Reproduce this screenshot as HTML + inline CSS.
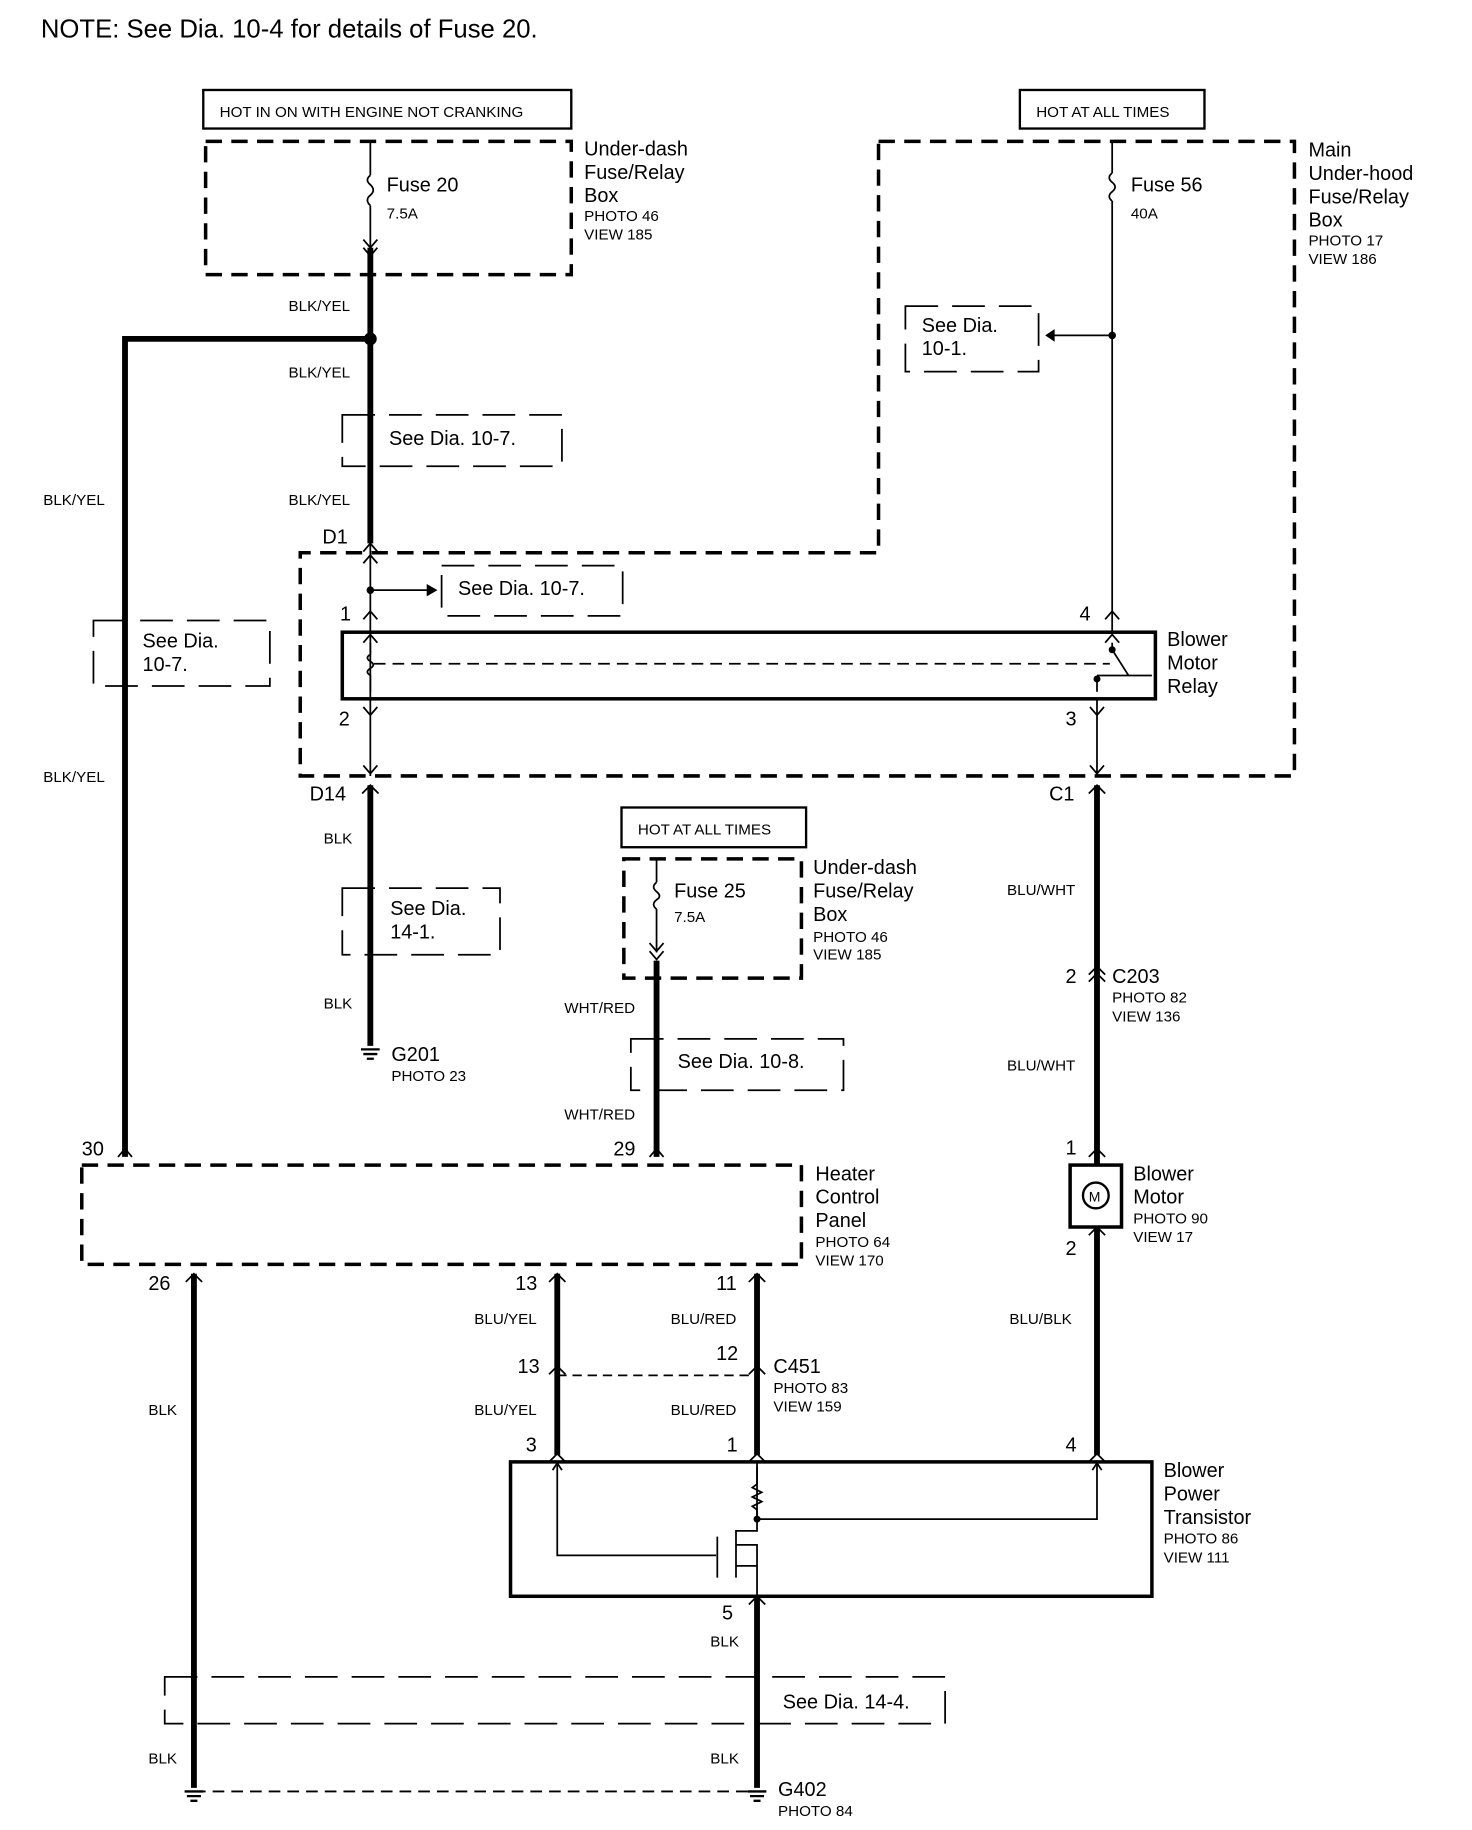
<!DOCTYPE html>
<html><head><meta charset="utf-8"><style>
html,body{margin:0;padding:0;background:#fff;}
svg{display:block}
text{font-family:"Liberation Sans",sans-serif;fill:#000}
.s{font-size:13px}.m{font-size:17px}
</style></head><body>
<svg width="1472" height="1830" viewBox="0 0 1260 1566" preserveAspectRatio="none" xmlns="http://www.w3.org/2000/svg">
<g fill="none" stroke="#000">
<rect x="174" y="77" width="315" height="33" stroke-width="2"/>
<rect x="873" y="77" width="158" height="33" stroke-width="2"/>
<rect x="532" y="691" width="158" height="34" stroke-width="2"/>
<g stroke-width="3" stroke-dasharray="14,8">
<rect x="176" y="121" width="313" height="114"/>
<path d="M752,121 H1108 V664 H257 V473 H752 Z"/>
<rect x="534" y="735" width="152" height="102"/>
<rect x="70" y="997" width="616" height="85"/>
</g>
<g stroke-width="1.5" stroke-dasharray="28,12">
<path d="M293,355 H481 V399 H293 Z"/>
<path d="M775,262 H889 V318 H775 Z"/>
<path d="M378,484 H533 V527 H378 Z"/>
<path d="M80,531 H231 V587 H80 Z"/>
<path d="M293,760 H428 V817 H293 Z"/>
<path d="M540,889 H722 V933 H540 Z"/>
<path d="M141,1435 H809 V1475 H141 Z"/>
</g>
<path d="M166,1533 H648" stroke-width="1.5" stroke-dasharray="10,6"/>
<g stroke-width="5">
<path d="M317,212 V465"/>
<path d="M107,990 V290 H317"/>
<path d="M317,672 V895"/>
<path d="M939,672 V997"/>
<path d="M562,822 V990"/>
<path d="M939,1050 V1245"/>
<path d="M166,1090 V1530"/>
<path d="M477,1090 V1245"/>
<path d="M648,1090 V1245"/>
<path d="M648,1366 V1530"/>
</g>
<circle cx="317" cy="290" r="5" fill="#000"/>
<g stroke-width="1.5">
<path d="M317,121 V150 M317,176 V212"/>
<path d="M317,150 q-5,4 0,8 q5,5 0,9 q-5,4 0,9"/>
<path d="M952,121 V148 M952,172 V540"/>
<path d="M952,148 q-5,4 0,8 q5,4 0,8 q-5,4 0,8"/>
<path d="M562,735 V755 M562,778 V815"/>
<path d="M562,755 q-5,4 0,8 q5,4 0,7 q-5,4 0,8"/>
<path d="M952,287 H902"/><path d="M902,283 l-6,4 6,4z" fill="#000"/>
<circle cx="952" cy="287" r="2.5" fill="#000"/>
<path d="M317,465 V598 M317,598 V664"/>
<path d="M317,505 H368"/><path d="M366,501 l7,4 -7,4z" fill="#000"/>
<circle cx="317" cy="505" r="2.5" fill="#000"/>
<path d="M939,598 V664"/>
<path d="M477,1251 V1331 H613"/>
<path d="M648,1251 V1300 H939 V1251"/>
</g>
<g stroke-width="1.5">
<path d="M311,205 l6,7 6,-7 M311,212 l6,7 6,-7"/>
<path d="M311,472 l6,-7 6,7 M311,482 l6,-7 6,7"/>
<path d="M311,530 l6,-7 6,7 M311,550 l6,-7 6,7"/>
<path d="M946,530 l6,-7 6,7 M946,550 l6,-7 6,7"/>
<path d="M311,605 l6,7 6,-7 M311,655 l6,7 6,-7"/>
<path d="M933,605 l6,7 6,-7 M933,655 l6,7 6,-7"/>
<path d="M556,807 l6,7 6,-7 M556,814 l6,7 6,-7"/>
<path d="M932,679 l7,-7 7,7 M310,679 l7,-7 7,7"/>
<path d="M101,990 l6,-7 6,7 M556,990 l6,-7 6,7"/>
<path d="M932,840 l7,-7 7,7 M932,834 l7,-7 7,7"/>
<path d="M932,990 l7,-7 7,7 M932,1057 l7,-7 7,7"/>
<path d="M159,1097 l7,-7 7,7 M470,1097 l7,-7 7,7 M641,1097 l7,-7 7,7"/>
<path d="M470,1176 l7,-7 7,7 M641,1176 l7,-7 7,7"/>
<path d="M470,1251 l7,-7 7,7 M641,1251 l7,-7 7,7 M932,1251 l7,-7 7,7"/>
<path d="M641,1373 l7,-7 7,7"/>
<path d="M473,1258 l4,-6 4,6 M935,1258 l4,-6 4,6"/>
</g>
<path d="M477,1177 H648" stroke-width="1.5" stroke-dasharray="8,5"/>
<rect x="293" y="541" width="696" height="57" stroke-width="3"/>
<path d="M317,550 V560 q-5,3 0,6 q5,3 0,6 q-5,3 0,6 V592" stroke-width="1.5"/>
<path d="M320,568 H950" stroke-width="1.5" stroke-dasharray="10,6"/>
<path d="M952,550 V556 L966,578 M939,578 V592 M939,578 H986" stroke-width="1.5"/>
<circle cx="952" cy="556" r="2.5" fill="#000"/><circle cx="939" cy="581" r="2.5" fill="#000"/>
<rect x="916" y="997" width="44" height="53" stroke-width="3"/>
<circle cx="938" cy="1023" r="11" stroke-width="2"/>
<rect x="437" y="1251" width="549" height="115" stroke-width="3"/>
<path d="M648,1255 V1270 l-4,3 8,4 -8,4 8,4 -8,4 4,3 V1310 H630 V1350 M614,1315 V1350 M630,1322 H648 V1340 H630 M648,1340 V1366" stroke-width="1.5"/>
<circle cx="648" cy="1300" r="2.5" fill="#000"/>
<g stroke-width="2">
<path d="M309,898 H325 M311,902 H323 M314,906 H320"/>
<path d="M158,1533 H174 M160,1537 H172 M163,1541 H169"/>
<path d="M640,1533 H656 M642,1537 H654 M645,1541 H651"/>
</g>
</g>
<text x="35" y="32" style="font-size:22px">NOTE: See Dia.  10-4 for details of Fuse 20.</text>
<text x="188" y="100" class="s">HOT IN ON WITH ENGINE NOT CRANKING</text>
<text x="887" y="100" class="s">HOT AT ALL TIMES</text>
<text x="546" y="714" class="s">HOT AT ALL TIMES</text>
<text x="331" y="164" class="m">Fuse 20</text><text x="331" y="187" class="s">7.5A</text>
<text x="500" y="133" class="m">Under-dash</text><text x="500" y="153" class="m">Fuse/Relay</text><text x="500" y="173" class="m">Box</text>
<text x="500" y="189" class="s">PHOTO 46</text><text x="500" y="205" class="s">VIEW 185</text>
<text x="968" y="164" class="m">Fuse 56</text><text x="968" y="187" class="s">40A</text>
<text x="1120" y="134" class="m">Main</text><text x="1120" y="154" class="m">Under-hood</text><text x="1120" y="174" class="m">Fuse/Relay</text><text x="1120" y="194" class="m">Box</text>
<text x="1120" y="210" class="s">PHOTO 17</text><text x="1120" y="226" class="s">VIEW 186</text>
<text x="789" y="284" class="m">See Dia.</text><text x="789" y="304" class="m">10-1.</text>
<text x="333" y="381" class="m">See Dia. 10-7.</text>
<text x="392" y="509" class="m">See Dia. 10-7.</text>
<text x="122" y="554" class="m">See Dia.</text><text x="122" y="574" class="m">10-7.</text>
<text x="334" y="783" class="m">See Dia.</text><text x="334" y="803" class="m">14-1.</text>
<text x="580" y="914" class="m">See Dia. 10-8.</text>
<text x="670" y="1462" class="m">See Dia. 14-4.</text>
<g class="s">
<text x="247" y="266">BLK/YEL</text><text x="247" y="323">BLK/YEL</text><text x="247" y="432">BLK/YEL</text>
<text x="37" y="432">BLK/YEL</text><text x="37" y="669">BLK/YEL</text>
<text x="277" y="722">BLK</text><text x="277" y="863">BLK</text>
<text x="483" y="867">WHT/RED</text><text x="483" y="958">WHT/RED</text>
<text x="862" y="766">BLU/WHT</text><text x="862" y="916">BLU/WHT</text><text x="864" y="1133">BLU/BLK</text>
<text x="406" y="1133">BLU/YEL</text><text x="574" y="1133">BLU/RED</text>
<text x="406" y="1211">BLU/YEL</text><text x="574" y="1211">BLU/RED</text>
<text x="127" y="1211">BLK</text><text x="127" y="1509">BLK</text>
<text x="608" y="1409">BLK</text><text x="608" y="1509">BLK</text>
<text x="335" y="925">PHOTO 23</text>
<text x="952" y="858">PHOTO 82</text><text x="952" y="874">VIEW 136</text>
<text x="970" y="1047">PHOTO 90</text><text x="970" y="1063">VIEW 17</text>
<text x="698" y="1067">PHOTO 64</text><text x="698" y="1083">VIEW 170</text>
<text x="662" y="1192">PHOTO 83</text><text x="662" y="1208">VIEW 159</text>
<text x="996" y="1321">PHOTO 86</text><text x="996" y="1337">VIEW 111</text>
<text x="696" y="806">PHOTO 46</text><text x="696" y="821">VIEW 185</text>
<text x="666" y="1554">PHOTO 84</text>
<text x="577" y="789">7.5A</text>
</g>
<g class="m">
<text x="276" y="465">D1</text><text x="291" y="531">1</text><text x="924" y="531">4</text>
<text x="290" y="621">2</text><text x="912" y="621">3</text>
<text x="265" y="685">D14</text><text x="898" y="685">C1</text>
<text x="999" y="553">Blower</text><text x="999" y="573">Motor</text><text x="999" y="593">Relay</text>
<text x="577" y="768">Fuse 25</text>
<text x="696" y="748">Under-dash</text><text x="696" y="768">Fuse/Relay</text><text x="696" y="788">Box</text>
<text x="335" y="908">G201</text>
<text x="912" y="841">2</text><text x="952" y="841">C203</text>
<text x="70" y="989">30</text><text x="525" y="989">29</text><text x="912" y="988">1</text>
<text x="970" y="1010">Blower</text><text x="970" y="1030">Motor</text>
<text x="912" y="1074">2</text>
<text x="698" y="1010">Heater</text><text x="698" y="1030">Control</text><text x="698" y="1050">Panel</text>
<text x="127" y="1104">26</text><text x="441" y="1104">13</text><text x="613" y="1104">11</text>
<text x="443" y="1175">13</text><text x="613" y="1164">12</text><text x="662" y="1175">C451</text>
<text x="450" y="1242">3</text><text x="622" y="1242">1</text><text x="912" y="1242">4</text>
<text x="996" y="1264">Blower</text><text x="996" y="1284">Power</text><text x="996" y="1304">Transistor</text>
<text x="618" y="1386">5</text><text x="666" y="1537">G402</text>
</g>
<text x="932" y="1028" style="font-size:12px">M</text>
</svg>
</body></html>
